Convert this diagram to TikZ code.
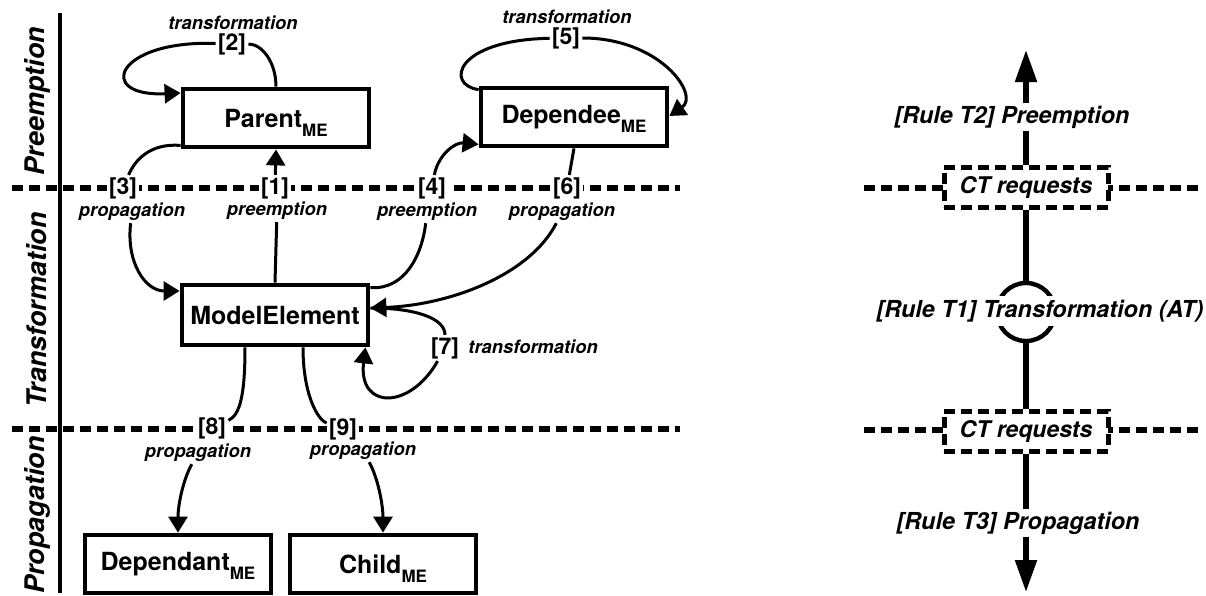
\documentclass[tikz,border=0pt]{standalone}
\usepackage{fontspec}
\setmainfont{TeX Gyre Heros}
\usetikzlibrary{arrows.meta, calc}
\newcommand{\mesub}{\raisebox{-4.5pt}[0pt][0pt]{\fontsize{8.5}{9}\selectfont ME}}
\tikzset{
    mebox/.style={draw, rectangle, line width=2.4pt, minimum width=93pt, minimum height=29pt, inner sep=0pt, align=center, font=\fontsize{12.5}{14}\selectfont\bfseries},
    numlabel/.style={fill=white, inner sep=1pt, font=\fontsize{11.5}{13}\selectfont\bfseries},
    taglabel/.style={fill=white, inner sep=1pt, font=\fontsize{9.2}{11}\selectfont\bfseries\itshape},
    phaselabel/.style={rotate=90, inner sep=0pt, font=\fontsize{13.5}{15}\selectfont\bfseries\itshape},
    rulelabel/.style={fill=white, inner sep=1pt, font=\fontsize{11.7}{13}\selectfont\bfseries\itshape},
    ctbox/.style={draw, rectangle, fill=white, line width=2.5pt, dash pattern=on 5.5pt off 3pt, minimum width=82pt, minimum height=20pt, inner sep=0pt, font=\fontsize{11.5}{13}\selectfont\bfseries\itshape},
    sepline/.style={line width=2.6pt, dash pattern=on 5.5pt off 3pt},
    conn/.style={draw, line width=1.5pt},
    arrow/.style={draw, line width=1.5pt, -{Triangle[length=8pt, width=9.5pt]}},
    flow/.style={draw, line width=2.6pt},
    bigarrow/.style={draw, line width=2.6pt, -{Triangle[length=16pt, width=10.5pt]}}
}

\begin{document}
\begin{tikzpicture}[x=0.5pt, y=-0.5pt]
    \useasboundingbox (0,0) rectangle (1206,595);

    % phase separators
    \draw[line width=2pt] (60,13) -- (60,593);
    \draw[sepline] (12,188) -- (680,188);
    \draw[sepline] (12,429) -- (680,429);
    \draw[sepline] (864,188) -- (1198,188);
    \draw[sepline] (864,430) -- (1198,430);

    \node[phaselabel] (pre) at (37,101) {Preemption};
    \node[phaselabel] (tra) at (37,310) {Transformation};
    \node[phaselabel] (pro) at (37,515) {Propagation};

    \node[mebox] (parent) at (276,118) {Parent\mesub};
    \node[mebox] (dependee) at (574,117) {Dependee\mesub};
    \node[mebox, minimum height=30pt] (model) at (275,315) {ModelElement};
    \node[mebox] (dependant) at (178,564) {Dependant\mesub};
    \node[mebox] (child) at (383,564) {Child\mesub};

    \node[numlabel] (n1) at (275,188) {[1]};
    \node[taglabel] (w1) at (277,211) {preemption};
    \node[numlabel] (n2) at (232,44) {[2]};
    \node[taglabel] (w2) at (233,23) {transformation};
    \node[numlabel] (n3) at (123,188) {[3]};
    \node[taglabel] (w3) at (132,212) {propagation};
    \node[numlabel] (n4) at (432,188) {[4]};
    \node[taglabel] (w4) at (427,212) {preemption};
    \node[numlabel] (n5) at (566,38) {[5]};
    \node[taglabel] (w5) at (567,17) {transformation};
    \node[numlabel] (n6) at (567,188) {[6]};
    \node[taglabel] (w6) at (562,212) {propagation};
    \node[numlabel] (n7) at (445,348) {[7]};
    \node[taglabel, anchor=west] (w7) at (466,347) {transformation};
    \node[numlabel] (n8) at (212,428) {[8]};
    \node[taglabel] (w8) at (198,453) {propagation};
    \node[numlabel] (n9) at (343,429) {[9]};
    \node[taglabel] (w9) at (363,451) {propagation};

    \draw[conn] (model.north) -- (w1);
    \draw[arrow] (n1) -- (parent.south);
    \draw[conn] (parent.north) .. controls (276,62) and (262,44) .. (n2);
    \draw[arrow] (n2) .. controls (115,40) and (95,97) .. ($(parent.west)+(0,-25)$);
    \draw[conn] ($(parent.south west)+(0,-4)$) .. controls (150,143) and (135,160) .. (n3);
    \draw[arrow] (w3) .. controls (126,262) and (145,291) .. ($(model.west)+(0,-24)$);
    \draw[conn] ($(model.north east)+(0,5)$) .. controls (405,290) and (422,255) .. (w4);
    \draw[arrow] (n4) .. controls (438,155) and (455,142) .. ($(dependee.south west)+(0,-4)$);
    \draw[conn] ($(dependee.north west)+(0,4)$) .. controls (445,85) and (455,40) .. (n5);
    \draw[arrow] (n5) .. controls (660,38) and (700,95) .. ($(dependee.east)+(0,-1)$);
    \draw[conn] (dependee.south) -- (n6);
    \draw[arrow] (w6) .. controls (530,275) and (450,305) .. ($(model.east)+(0,-7)$);
    \draw[conn] ($(model.east)+(0,-7)$) .. controls (415,308) and (445,318) .. (n7);
    \draw[arrow] (n7) .. controls (410,410) and (358,410) .. ($(model.south east)+(-5,0)$);
    \draw[conn] ($(model.south)+(-30,0)$) .. controls (245,395) and (240,415) .. (n8);
    \draw[arrow] (w8) .. controls (183,480) and (178,505) .. (dependant.north);
    \draw[conn] ($(model.south)+(28,0)$) .. controls (303,395) and (318,420) .. (n9);
    \draw[arrow] (w9) .. controls (378,478) and (383,505) .. (child.north);

    % rule axis
    \coordinate (toptip) at (1026,50);
    \coordinate (bottip) at (1026,592);
    \node[ctbox] (ct1) at (1026,187) {CT requests};
    \node[ctbox] (ct2) at (1026,431) {CT requests};
    \node[draw, circle, line width=2.2pt, minimum size=29pt, inner sep=0pt] (tcirc) at (1026,312) {};
    \node[rulelabel] (rt2) at (1012,117) {[Rule T2] Preemption};
    \node[rulelabel, inner ysep=2pt] (rt1) at (1040,311) {[Rule T1] Transformation (AT)};
    \node[rulelabel] (rt3) at (1018,523) {[Rule T3] Propagation};

    \draw[flow] (ct1.north) -- (ct1.north |- rt2.south);
    \draw[bigarrow] (ct1.north |- rt2.north) -- (toptip);
    \draw[flow] (ct1.south) -- (tcirc.north);
    \draw[flow] (tcirc.south) -- (ct2.north);
    \draw[flow] (ct2.south) -- (ct2.south |- rt3.north);
    \draw[bigarrow] (ct2.south |- rt3.south) -- (bottip);
\end{tikzpicture}
\end{document}
